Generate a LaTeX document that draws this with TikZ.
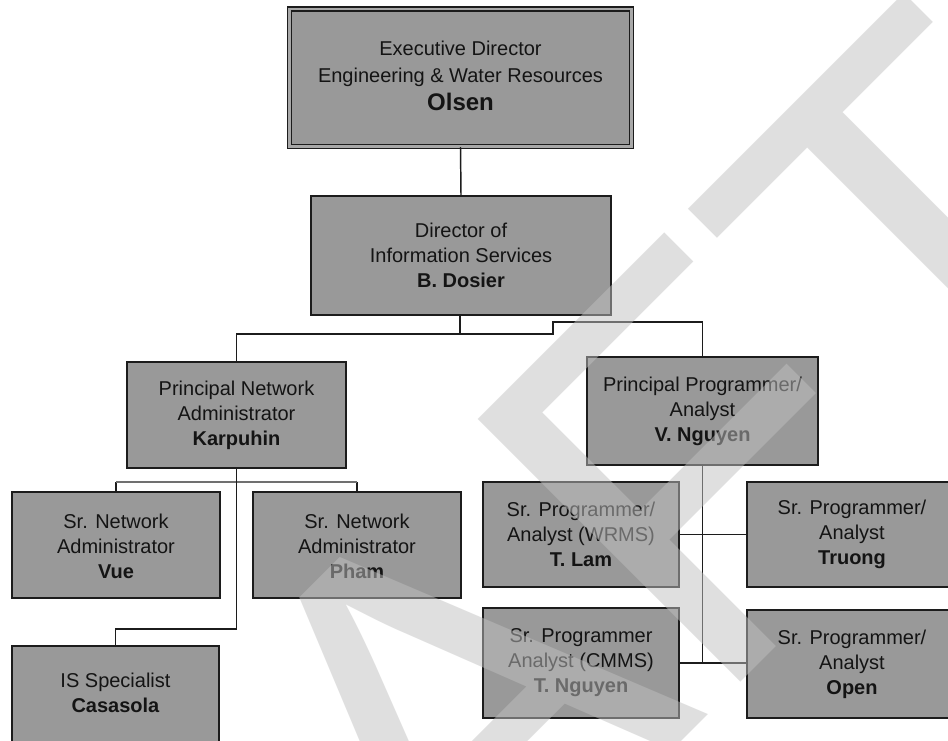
\documentclass[tikz,border=0pt]{standalone}
\usepackage{fontspec}
\setmainfont{Liberation Sans}
\usetikzlibrary{fit}
\definecolor{boxgray}{HTML}{999999}
\definecolor{edge}{HTML}{1C1C1C}
\definecolor{gapgray}{HTML}{A8A8A8}
\definecolor{bargray}{HTML}{707070}
\definecolor{wmgray}{HTML}{C0C0C0}
\begin{document}
\begin{tikzpicture}[x=0.75pt,y=-0.75pt,
  unitbox/.style={draw=edge, line width=1.4pt, fill=boxgray, inner sep=0pt},
  topbox/.style={unitbox, line width=1.1pt, double=gapgray, double distance=2.2pt},
  unittext/.style={align=center, inner sep=0pt, text=black!92,
    font=\fontsize{15}{18.75}\selectfont},
  toptext/.style={unittext, font=\fontsize{15}{20.25}\selectfont},
  conn/.style={draw=edge, line width=1.1pt},
  subbar/.style={draw=bargray, line width=1.9pt},
  watermark/.style={anchor=base east, rotate=45, inner sep=0pt, text=wmgray,
    opacity=0.5, font=\fontsize{405}{405}\selectfont}]

\useasboundingbox (0,0) rectangle (948,740);
\fill[white] (0,0) rectangle (948,740);
\clip (0,0) rectangle (948,740);

% ---- units ----
\node[topbox, fit={(289.5,9) (631.5,146.5)}] (olsen) {};
\node[toptext] (olsen-t) at ([yshift=1.5pt]olsen.center)
  {Executive Director\\Engineering \& Water Resources\\[0.75pt]{\fontsize{18}{22}\selectfont\bfseries Olsen}};

\node[unitbox, fit={(311,196) (611,315)}] (dosier) {};
\node[unittext] (dosier-t) at (dosier.center)
  {Director of\\Information Services\\\textbf{B. Dosier}};

\node[unitbox, fit={(127,362) (346,468)}] (karp) {};
\node[unittext] (karp-t) at (karp.center)
  {Principal Network\\Administrator\\\textbf{Karpuhin}};

\node[unitbox, fit={(587,357) (818,465)}] (vng) {};
\node[unittext] (vng-t) at (vng.center)
  {Principal Programmer/\\Analyst\\\textbf{V. Nguyen}};

\node[unitbox, fit={(12,492) (220,598)}] (vue) {};
\node[unittext] (vue-t) at ([yshift=-0.75pt]vue.center)
  {Sr. Network\\Administrator\\\textbf{Vue}};

\node[unitbox, fit={(253,492) (461,598)}] (pham) {};
\node[unittext] (pham-t) at ([yshift=-0.75pt]pham.center)
  {Sr. Network\\Administrator\\\textbf{Pham}};

\node[unitbox, fit={(12,646) (219,742)}] (cas) {};
\node[unittext] (cas-t) at ([yshift=0.75pt]cas.center)
  {IS Specialist\\\textbf{Casasola}};

\node[unitbox, fit={(483,482) (679,587)}] (tlam) {};
\node[unittext] (tlam-t) at (tlam.center)
  {Sr. Programmer/\\Analyst (WRMS)\\\textbf{T. Lam}};

\node[unitbox, fit={(747,482) (957,587)}] (truong) {};
\node[unittext] (truong-t) at (truong.center)
  {Sr. Programmer/\\Analyst\\\textbf{Truong}};

\node[unitbox, fit={(483,608) (679,718)}] (tng) {};
\node[unittext] (tng-t) at (tng.center)
  {Sr. Programmer\\Analyst (CMMS)\\\textbf{T. Nguyen}};

\node[unitbox, fit={(747,610) (957,718)}] (open) {};
\node[unittext] (open-t) at (open.center)
  {Sr. Programmer/\\Analyst\\\textbf{Open}};

% ---- reporting lines ----
\draw[conn] (olsen.south) -- (dosier.north);

\coordinate (split) at (460,334);
\coordinate (jog) at (553,322);
\draw[conn] (dosier.south -| split) -- (split) -| (karp.north);
\draw[conn] (split) -- (split -| jog) -- (jog) -| (vng.north);

\draw[conn] (karp.south) -- ++(0,160) -| (cas.north);
\draw[conn] (vue.north) -- ++(0,-9);
\draw[conn] (pham.north) -- ++(0,-9);
\draw[subbar] ([yshift=6.75pt]vue.north) -- ([yshift=6.75pt]pham.north);
\draw[conn] (karp.south) -- ++(0,24);

\draw[conn] (vng.south) -- (vng.south |- tng.east);
\draw[conn] (tlam.east) -- (tlam.east -| truong.west);
\draw[conn] (tng.east) -- (tng.east -| open.west);

% ---- overlay lettering ----
\node[watermark] (wm) at (1176,247) {DRAFT};
\end{tikzpicture}
\end{document}
